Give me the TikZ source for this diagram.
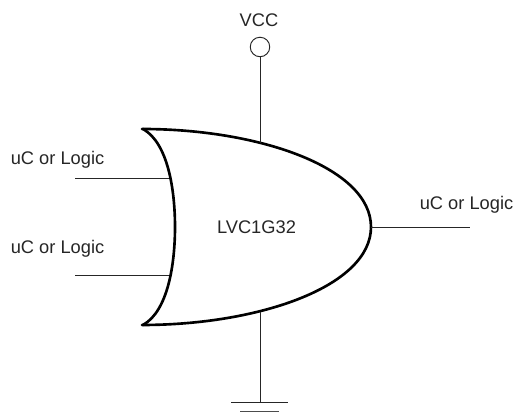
\documentclass[tikz,border=0pt]{standalone}
\usepackage{fontspec}
\setmainfont{Liberation Sans}
\tikzset{
  wire/.style={line width=.55pt, color=black!85},
  gateline/.style={line width=1.5pt, line cap=round},
  lbl/.style={inner sep=0pt, anchor=base, text=black!85, font=\fontsize{10.4}{12}\selectfont}
}

\begin{document}
\begin{tikzpicture}
\useasboundingbox (0,0) rectangle (10.3,8.38);

\draw[gateline] (2.84,5.8) .. controls (5.2,5.8) and (7.42,5.02) .. (7.42,3.84) .. controls (7.42,2.66) and (5.2,1.88) .. (2.84,1.88);
\draw[gateline] (2.86,5.8) .. controls (3.36,5.52) and (3.5,4.58) .. (3.5,3.84) .. controls (3.5,3.1) and (3.36,2.16) .. (2.86,1.88);

\node[draw, circle, wire, minimum size=.39cm, inner sep=0pt] at (5.2,7.44) (vcc) {};
\node[lbl] at (5.18,7.84) (vcclabel) {VCC};
\node[lbl] at (1.15,5.09) (in1label) {uC or Logic};
\node[lbl] at (1.15,3.31) (in2label) {uC or Logic};
\node[lbl] at (9.33,4.19) (outlabel) {uC or Logic};
\node[lbl] at (5.13,3.7) (gatelabel) {LVC1G32};

\coordinate (vcctop) at (5.2,5.52);
\coordinate (gndtop) at (5.2,2.13);
\coordinate (gnd) at (5.2,.334);
\coordinate (in1) at (1.5,4.82);
\coordinate (in1end) at (3.38,4.82);
\coordinate (in2) at (1.5,2.88);
\coordinate (in2end) at (3.38,2.88);
\coordinate (outstart) at (7.42,3.84);
\coordinate (out) at (9.4,3.84);

\draw[wire] (vcc) -- (vcctop);
\draw[wire] (gndtop) -- (gnd);
\draw[wire] (in1) -- (in1end);
\draw[wire] (in2) -- (in2end);
\draw[wire] (outstart) -- (out);

\draw[wire] (4.62,.334) -- (5.76,.334);
\draw[line width=.8pt, color=black!70] (4.8,.146) -- (5.58,.146);
\end{tikzpicture}
\end{document}
